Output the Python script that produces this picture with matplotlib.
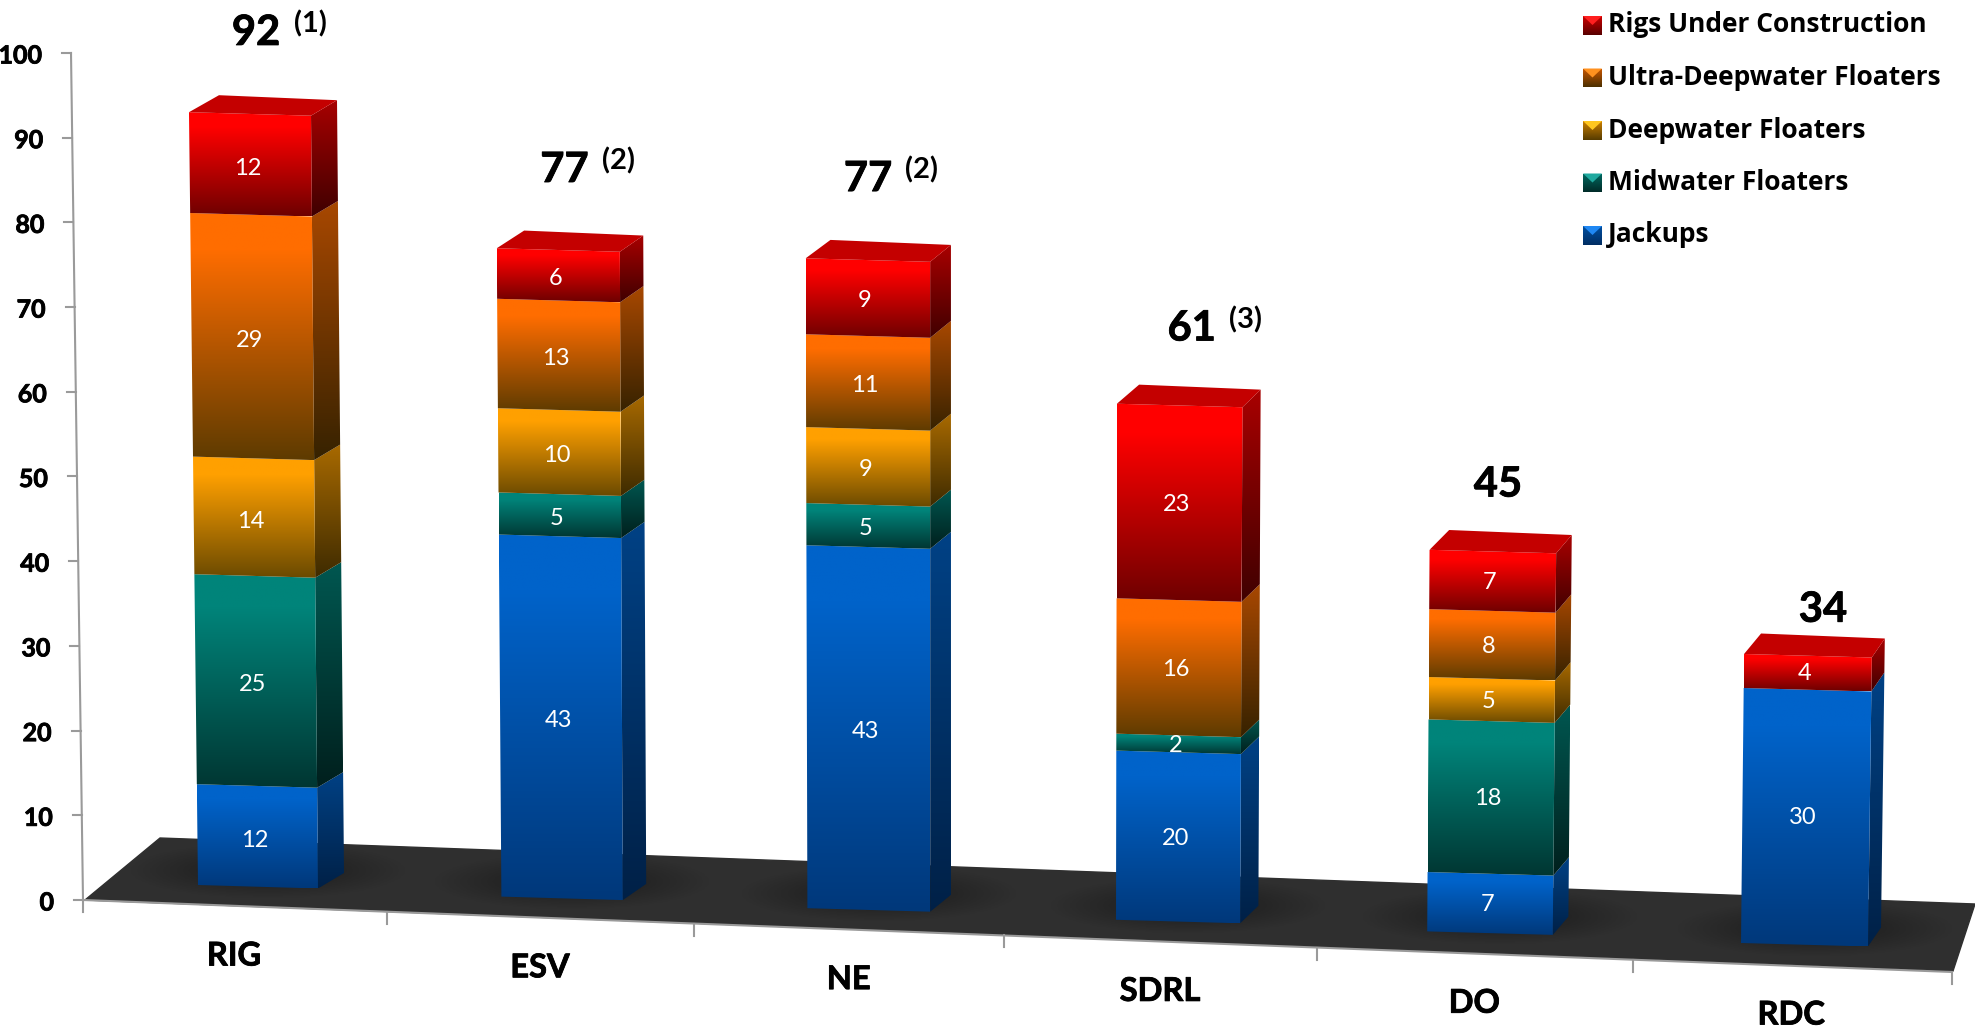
import numpy as np
import matplotlib
matplotlib.use('Agg')
import matplotlib.pyplot as plt
import matplotlib.patheffects as pe
from matplotlib.colors import to_rgb
from matplotlib.patches import Polygon

plt.rcParams['font.family'] = ['Lato', 'DejaVu Sans']

# chart data
tickers = ['RIG', 'ESV', 'NE', 'SDRL', 'DO', 'RDC']
jackups = [12, 43, 43, 20, 7, 30]
midwater = [25, 5, 5, 2, 18, 0]
deepwater = [14, 10, 9, 0, 5, 0]
ultra_deep = [29, 13, 11, 16, 8, 0]
under_construction = [12, 6, 9, 23, 7, 4]
totals = [92, 77, 77, 61, 45, 34]
notes = ['(1)', '(2)', '(2)', '(3)', '', '']
y_ticks = [0, 10, 20, 30, 40, 50, 60, 70, 80, 90, 100]

series = [jackups, midwater, deepwater, ultra_deep, under_construction]
legend_names = ['Rigs Under Construction', 'Ultra-Deepwater Floaters',
                'Deepwater Floaters', 'Midwater Floaters', 'Jackups']

top_colors = ['#0063ca', '#00847a', '#ffa000', '#ff6d00', '#ff0000']
bot_colors = ['#00387a', '#003632', '#6b4a00', '#5e3b00', '#6e0000']

# offset of the total labels from the bar top, in pixels
total_gaps = [81, 80, 81, 77, 67, 46]
total_dx = [6, 6, 0, 12, 5, 15]

# thin outline to thicken the bold text
heavy = [pe.withStroke(linewidth=0.6, foreground='black')]


def gradient(ax, poly, top, bot, hold=0.15):
    """Fill a polygon with a vertical gradient, top colour to bottom colour."""
    poly = np.array(poly)
    g = np.linspace(0, 1, 128)
    t = np.clip((g - hold) / (1 - hold), 0, 1)[:, None, None]
    img = np.array(top)[None, None, :] * (1 - t) + np.array(bot)[None, None, :] * t
    extent = [poly[:, 0].min(), poly[:, 0].max(), poly[:, 1].max(), poly[:, 1].min()]
    im = ax.imshow(img, extent=extent, aspect='auto', interpolation='bilinear', zorder=3)
    im.set_clip_path(Polygon(poly, transform=ax.transData))


def front(i, u, v):
    """Pixel position on the front face of bar i: u across (0..1), v = value."""
    lean = -0.098 + 0.0376 * i
    width = 120 + 1.4 * i + 0.022 * v
    x = 198 + 302.1 * i + 1.3 * i ** 2 + lean * v + u * width
    y = 885 + 11.6 * i - (8.40 + 0.02 * i) * v + 3.5 * u
    return x, y


def back(i, u, v):
    x, y = front(i, u, v)
    dx = 26 - 2.6 * i + 4 * (1 - u)
    dy = -15.5 - 0.7 * i - 1.5 * (1 - u)
    return x + dx, y + dy


def floor(c):
    x = 83 + 302.5 * c + 1.5 * c ** 2
    return x, 900 + (x - 83) * 72 / 1869


fig = plt.figure(figsize=(19.75, 10.29), dpi=100)
ax = fig.add_axes([0, 0, 1, 1])

# dark floor
floor_shape = [(85, 900), (160, 838), (1975, 904), (1953, 971)]
ax.add_patch(Polygon(floor_shape, closed=True, color='#2f2f2f', zorder=1))

# value axis
ax.plot([71, 83], [53, 900], color='#9a9a9a', lw=1.5, zorder=2)
ax.plot([83, 83], [900, 912], color='#9a9a9a', lw=1.5, zorder=2)
for tick in y_ticks:
    py = 900 - 8.47 * tick
    px = 83 - 12 * tick / 100
    ax.plot([px - 9, px], [py, py], color='#9a9a9a', lw=1.5, zorder=2)
    ax.text(px - 29, py + 3, str(tick), ha='right', va='center', fontsize=18,
            fontweight='bold', color='black', path_effects=heavy)

# category axis along the front edge of the floor
ax.plot([floor(0)[0], floor(6)[0]], [floor(0)[1], floor(6)[1]], color='#9a9a9a', lw=1.5, zorder=2)
for c in range(1, 7):
    px, py = floor(c)
    ax.plot([px, px], [py, py + 12], color='#9a9a9a', lw=1.5, zorder=2)

for i, name in enumerate(tickers):
    ax.text(234 + 304.6 * i + 1.37 * i ** 2, 956 + 11.8 * i, name, ha='center', va='center',
            fontsize=23.5, fontweight='bold', color='black', path_effects=heavy)

    # soft shadow on the floor round the foot of the bar
    x0, y0 = front(i, 0.5, 0)
    xx, yy = np.meshgrid(np.linspace(-1, 1, 80), np.linspace(-1, 1, 40))
    shade = np.zeros((40, 80, 4))
    shade[..., 3] = np.clip(1 - np.hypot(xx, yy), 0, 1) * 0.45
    sh = ax.imshow(shade, extent=[x0 - 130, x0 + 150, y0 + 12, y0 - 45], aspect='auto', zorder=2)
    sh.set_clip_path(Polygon(floor_shape, transform=ax.transData))

    base = 0
    for k, values in enumerate(series):
        val = values[i]
        if val == 0:
            continue
        top = base + val
        c_top = np.array(to_rgb(top_colors[k]))
        c_bot = np.array(to_rgb(bot_colors[k]))

        # right side face, then the front face
        side = [front(i, 1, top), back(i, 1, top), back(i, 1, base), front(i, 1, base)]
        gradient(ax, side, c_top * 0.66, c_bot * 0.58, hold=0.0)
        face = [front(i, 0, top), front(i, 1, top), front(i, 1, base), front(i, 0, base)]
        gradient(ax, face, c_top, c_bot)

        cx, cy = front(i, 0.5, (base + top) / 2)
        ax.text(cx - 3, cy + 4 - 0.7 * i, str(val), ha='center', va='center', fontsize=17,
                color='white', zorder=5)
        base = top

    # top face of the stack
    lid = [front(i, 0, base), back(i, 0, base), back(i, 1, base), front(i, 1, base)]
    ax.add_patch(Polygon(lid, closed=True, facecolor='#c40000', edgecolor='none', zorder=4))

    # total with its footnote
    tx, ty = front(i, 0.5, totals[i])
    ax.text(tx + total_dx[i], ty - total_gaps[i], str(totals[i]), ha='center', va='center', fontsize=30,
            fontweight='bold', color='black', zorder=5, path_effects=heavy)
    if notes[i]:
        ax.text(tx + total_dx[i] + 54, ty - total_gaps[i] - 9, notes[i], ha='center', va='center',
                fontsize=21, fontweight='bold', color='black', zorder=5)

# legend, drawn by hand to get the bevelled swatches
for row, label in enumerate(legend_names):
    k = len(series) - 1 - row
    ly = 25 + 52.5 * row
    ax.text(1608, ly, label, ha='left', va='center', fontsize=19, fontweight='bold',
            family=['Open Sans', 'DejaVu Sans'], color='black')
    c_top = np.array(to_rgb(top_colors[k]))
    c_bot = np.array(to_rgb(bot_colors[k]))
    square = [(1583, ly - 9), (1602, ly - 9), (1602, ly + 10), (1583, ly + 10)]
    gradient(ax, square, c_top * 0.8, c_bot * 0.8, hold=0.0)
    cap = [(1583, ly - 9), (1602, ly - 9), (1592.5, ly)]
    ax.add_patch(Polygon(cap, closed=True, facecolor=np.clip(c_top * 1.05 + 0.12, 0, 1),
                         edgecolor='none', zorder=4))

ax.set_xlim(0, 1975)
ax.set_ylim(1029, 0)
ax.axis('off')

plt.savefig('out.png', dpi=100, facecolor='white')
plt.close()
